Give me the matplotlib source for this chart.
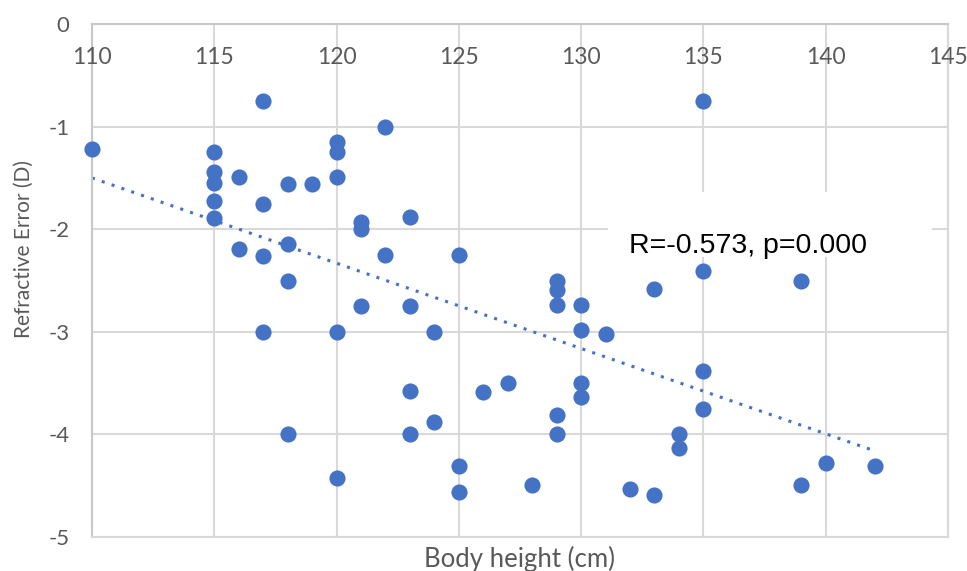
import matplotlib.pyplot as plt
import numpy as np

plt.rcParams['axes.unicode_minus'] = False

# body height (cm) and refractive error (D)
height = [110, 117, 122, 115, 115, 115, 115, 115, 116, 118, 119, 117,
          120, 120, 120, 121, 121, 123, 116, 117, 118, 118, 122, 125,
          121, 123, 117, 120, 124, 123, 124, 118, 123, 120, 125, 125,
          135, 129, 129, 129, 130, 130, 131, 133, 135, 139, 126, 127,
          130, 130, 135, 135, 129, 129, 134, 134, 128, 132, 133, 140,
          139, 142]
refr = [-1.22, -0.75, -1.0, -1.25, -1.44, -1.55, -1.73, -1.89, -1.49, -1.56, -1.56, -1.75,
        -1.15, -1.25, -1.49, -1.93, -2.0, -1.88, -2.19, -2.26, -2.14, -2.5, -2.25, -2.25,
        -2.75, -2.75, -3.0, -3.0, -3.0, -3.58, -3.88, -4.0, -4.0, -4.42, -4.31, -4.56,
        -0.75, -2.5, -2.59, -2.74, -2.74, -2.98, -3.02, -2.58, -2.41, -2.5, -3.59, -3.5,
        -3.5, -3.64, -3.38, -3.75, -3.81, -4.0, -4.0, -4.13, -4.49, -4.53, -4.59, -4.28,
        -4.49, -4.31]

# linear trendline ends as drawn in the chart
trend_x = [110, 142]
trend_y = [-1.50, -4.16]

x_ticks = [110, 115, 120, 125, 130, 135, 140, 145]
y_ticks = [0, -1, -2, -3, -4, -5]
stat_text = "R=-0.573, p=0.000"

blue = '#4472C4'
grid_c = '#d9d9d9'
label_c = '#595959'

fig = plt.figure(figsize=(9.67, 5.71), dpi=100)
ax = fig.add_axes([0.0951, 0.0595, 0.8852, 0.8985])

ax.set_xlim(110, 145)
ax.set_ylim(-5, 0)
ax.set_xticks(x_ticks)
ax.set_yticks(y_ticks)
ax.grid(True, color=grid_c, linewidth=1.5, zorder=0)
ax.set_axisbelow(True)
for s in ['bottom', 'right']:
    ax.spines[s].set_color(grid_c)
    ax.spines[s].set_linewidth(1.5)
for s in ['top', 'left']:
    ax.spines[s].set_color('#c8c8c8')
    ax.spines[s].set_linewidth(1.5)

ax.tick_params(axis='both', length=0)
ax.tick_params(axis='x', labelbottom=False)
ax.tick_params(axis='y', labelsize=16, labelcolor=label_c, pad=16)
for lab in ax.get_yticklabels():
    lab.set_family('Lato')

# x axis sits at y=0 (top), labels just under it
for v in x_ticks:
    ax.text(v, -0.33, str(v), ha='center', va='center', fontsize=16.5,
            color=label_c, family='Lato')

ax.plot(trend_x, trend_y, color=blue, linewidth=2.2,
        linestyle=(0, (1, 2.4)), zorder=2)

ax.scatter(height, refr, s=135, color=blue, zorder=3, linewidths=0, clip_on=False)

# white box behind the stats text
ax.add_patch(plt.Rectangle((0.603, 0.546), 0.378, 0.127, transform=ax.transAxes,
                           facecolor='white', edgecolor='none', zorder=1.5))
ax.text(0.766, 0.554, stat_text, transform=ax.transAxes, ha='center',
        va='baseline', fontsize=20.5, family='Liberation Sans', color='black', zorder=4)

fig.text(24 / 967, 1 - 249 / 571, "Refractive Error (D)", rotation=90, ha='center',
         va='center', fontsize=15, color=label_c, family='Lato')
fig.text(520 / 967, 1 - 567 / 571, "Body height (cm)", ha='center', va='baseline',
         fontsize=18.5, color=label_c, family='Lato')

plt.savefig('out.png', dpi=100)
